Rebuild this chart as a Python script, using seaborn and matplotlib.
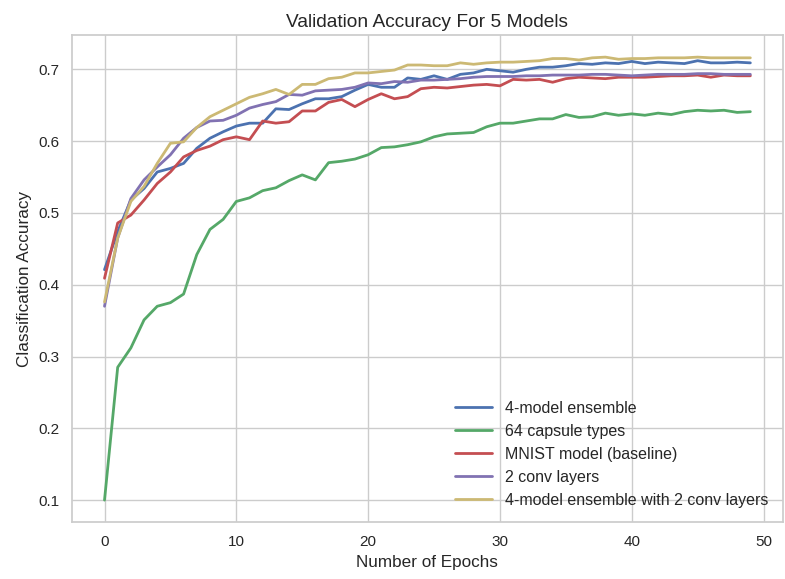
import matplotlib
matplotlib.use("Agg")
import matplotlib.pyplot as plt
import numpy as np
import pandas as pd
import seaborn as sns

epochs = list(range(50))

ensemble = [0.421, 0.474, 0.518, 0.534, 0.557, 0.562, 0.569, 0.590, 0.604, 0.613,
            0.621, 0.625, 0.625, 0.645, 0.644, 0.652, 0.659, 0.659, 0.662, 0.671,
            0.679, 0.675, 0.675, 0.688, 0.686, 0.691, 0.686, 0.693, 0.695, 0.700,
            0.698, 0.696, 0.700, 0.703, 0.703, 0.705, 0.708, 0.707, 0.709, 0.708,
            0.711, 0.708, 0.710, 0.709, 0.708, 0.712, 0.709, 0.709, 0.710, 0.709]

capsule64 = [0.100, 0.285, 0.312, 0.351, 0.370, 0.375, 0.387, 0.442, 0.477, 0.491,
             0.516, 0.521, 0.531, 0.535, 0.545, 0.553, 0.546, 0.570, 0.572, 0.575,
             0.581, 0.591, 0.592, 0.595, 0.599, 0.606, 0.610, 0.611, 0.612, 0.620,
             0.625, 0.625, 0.628, 0.631, 0.631, 0.637, 0.633, 0.634, 0.639, 0.636,
             0.638, 0.636, 0.639, 0.637, 0.641, 0.643, 0.642, 0.643, 0.640, 0.641]

mnist = [0.409, 0.486, 0.497, 0.518, 0.541, 0.557, 0.578, 0.587, 0.593, 0.602,
         0.606, 0.602, 0.628, 0.625, 0.627, 0.642, 0.642, 0.654, 0.658, 0.648,
         0.658, 0.666, 0.659, 0.662, 0.673, 0.675, 0.674, 0.676, 0.678, 0.679,
         0.677, 0.686, 0.685, 0.686, 0.682, 0.687, 0.689, 0.688, 0.687, 0.689,
         0.689, 0.689, 0.690, 0.691, 0.691, 0.692, 0.689, 0.692, 0.691, 0.691]

conv2 = [0.370, 0.465, 0.520, 0.546, 0.564, 0.581, 0.604, 0.619, 0.628, 0.629,
         0.636, 0.646, 0.651, 0.655, 0.665, 0.664, 0.670, 0.671, 0.672, 0.675,
         0.681, 0.680, 0.683, 0.682, 0.685, 0.685, 0.686, 0.687, 0.689, 0.690,
         0.690, 0.690, 0.691, 0.691, 0.692, 0.692, 0.692, 0.693, 0.693, 0.692,
         0.691, 0.692, 0.693, 0.693, 0.693, 0.694, 0.694, 0.693, 0.693, 0.693]

ensemble_conv2 = [0.376, 0.465, 0.516, 0.537, 0.569, 0.597, 0.599, 0.619, 0.634, 0.643,
                  0.652, 0.661, 0.666, 0.672, 0.665, 0.679, 0.679, 0.687, 0.689, 0.695,
                  0.695, 0.697, 0.699, 0.706, 0.706, 0.705, 0.705, 0.709, 0.707, 0.709,
                  0.710, 0.710, 0.711, 0.712, 0.715, 0.715, 0.713, 0.716, 0.717, 0.714,
                  0.715, 0.715, 0.716, 0.716, 0.716, 0.717, 0.716, 0.716, 0.716, 0.716]

labels = ["4-model ensemble", "64 capsule types", "MNIST model (baseline)",
          "2 conv layers", "4-model ensemble with 2 conv layers"]
series = [ensemble, capsule64, mnist, conv2, ensemble_conv2]

colors = ["#4C72B0", "#55A868", "#C44E52", "#8172B2", "#CCB974"]

frames = []
for label, values in zip(labels, series):
    frames.append(pd.DataFrame({"epoch": epochs, "accuracy": values, "model": label}))
df = pd.concat(frames, ignore_index=True)

sns.set_theme(style="whitegrid", context="notebook")
plt.rcParams["font.family"] = ["Liberation Sans", "DejaVu Sans"]

fig, ax = plt.subplots(figsize=(7.85, 5.79), dpi=100)
sns.lineplot(data=df, x="epoch", y="accuracy", hue="model", hue_order=labels,
             palette=colors, linewidth=2, ax=ax)
ax.set_title("Validation Accuracy For 5 Models", fontsize=13.75)
ax.set_xlabel("Number of Epochs", fontsize=12.3)
ax.set_ylabel("Classification Accuracy", fontsize=12.3)
ax.tick_params(axis="both", labelsize=11)
handles, _ = ax.get_legend_handles_labels()
ax.legend(handles=handles, labels=labels, loc="lower right", frameon=False,
          fontsize=11.5, handlelength=2.3)
plt.subplots_adjust(left=0.092, right=0.997, top=0.9396, bottom=0.098)
plt.savefig("out.png", dpi=100)
plt.close()
